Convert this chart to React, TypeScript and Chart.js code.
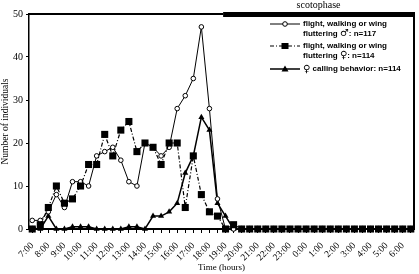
import React, { useEffect, useRef } from 'react';
import { Chart, registerables } from 'chart.js';

Chart.register(...registerables);

// Hour tick labels (one every second half-hour slot)
const hourLabels = [
  '7:00', '8:00', '9:00', '10:00', '11:00', '12:00', '13:00', '14:00',
  '15:00', '16:00', '17:00', '18:00', '19:00', '20:00', '21:00', '22:00',
  '23:00', '0:00', '1:00', '2:00', '3:00', '4:00', '5:00', '6:00',
];

// Half-hour slots, 7:00 .. 6:30
const slotCount = 48;

// flight, walking or wing fluttering, males (n=117)
const maleFlight = [
  2, 2, 4, 8, 5, 11, 11, 10, 17, 18, 19, 16, 11, 10, 20, 19,
  17, 19, 28, 31, 35, 47, 28, 7, 0, 0, 0, 0, 0, 0, 0, 0,
  0, 0, 0, 0, 0, 0, 0, 0, 0, 0, 0, 0, 0, 0, 0, 0,
];

// flight, walking or wing fluttering, females (n=114)
const femaleFlight = [
  0, 1, 5, 10, 6, 7, 10, 15, 15, 22, 17, 23, 25, 18, 20, 19,
  15, 20, 20, 5, 17, 8, 4, 3, 0, 1, 0, 0, 0, 0, 0, 0,
  0, 0, 0, 0, 0, 0, 0, 0, 0, 0, 0, 0, 0, 0, 0, 0,
];

// female calling behavior (n=114)
const femaleCalling = [
  0, 0, 3, 0, 0, 0.5, 0.5, 0.5, 0, 0, 0, 0, 0.5, 0.5, 0, 3,
  3, 4, 6, 13, 17, 26, 23, 6, 3, 0, 0, 0, 0, 0, 0, 0,
  0, 0, 0, 0, 0, 0, 0, 0, 0, 0, 0, 0, 0, 0, 0, 0,
];

const yMin = 0;
const yMax = 50;
const yStep = 10;

// scotophase begins (slot index, ~18:50)
const scotophaseStart = 23.7;

const legendLabels = [
  ['flight, walking or wing', 'fluttering \u2642: n=117'],
  ['flight, walking or wing', 'fluttering \u2640: n=114'],
  ['\u2640 calling behavior: n=114'],
];

const toPoints = (arr: number[]) => arr.map((y, i) => ({ x: i, y }));

function drawMarker(ctx: CanvasRenderingContext2D, kind: string, x: number, y: number) {
  ctx.save();
  ctx.fillStyle = '#000';
  ctx.strokeStyle = '#000';
  ctx.lineWidth = 1;
  ctx.setLineDash([]);
  if (kind === 'circle') {
    ctx.beginPath();
    ctx.arc(x, y, 2.3, 0, Math.PI * 2);
    ctx.fillStyle = '#fff';
    ctx.fill();
    ctx.stroke();
  } else if (kind === 'rect') {
    ctx.fillRect(x - 3.5, y - 3, 7, 6);
  } else {
    ctx.beginPath();
    ctx.moveTo(x, y - 3.5);
    ctx.lineTo(x + 3.5, y + 2.5);
    ctx.lineTo(x - 3.5, y + 2.5);
    ctx.closePath();
    ctx.fill();
  }
  ctx.restore();
}

const textFont = 'bold 8px "Liberation Sans"';
const symbolFont = '10px "DejaVu Sans"';

// draw a legend line, using a larger font for the sex symbols
function drawRich(ctx: CanvasRenderingContext2D, text: string, x: number, y: number) {
  let cx = x;
  const parts = text.split(/([\u2640\u2642])/);
  parts.forEach((p) => {
    if (!p) return;
    const isSym = p === '\u2640' || p === '\u2642';
    ctx.font = isSym ? symbolFont : textFont;
    ctx.fillText(p, cx, y);
    cx += ctx.measureText(p).width;
  });
}

const overlayPlugin = {
  id: 'overlay',
  afterDraw(chart: any) {
    const { ctx, chartArea: a, scales } = chart;
    const xs = scales.x.getPixelForValue(scotophaseStart);
    ctx.save();
    ctx.fillStyle = '#000';
    // top frame (photophase) and scotophase bar
    ctx.fillRect(a.left, a.top - 1, xs - a.left, 2);
    ctx.fillRect(xs, a.top - 2, a.right - xs + 1, 5);
    // right frame
    ctx.fillRect(a.right - 1, a.top, 2, a.bottom - a.top);

    ctx.font = '10px "Liberation Serif"';
    ctx.textAlign = 'center';
    ctx.textBaseline = 'middle';
    ctx.fillText('scotophase', (xs + a.right) / 2, a.top - 9);

    // legend
    const styles = [
      { dash: [] as number[], marker: 'circle', width: 1 },
      { dash: [4, 2, 1, 2], marker: 'rect', width: 1.2 },
      { dash: [] as number[], marker: 'triangle', width: 1.5 },
    ];
    const offsets = [10, 32, 55];
    const lx0 = a.right - 144;
    const lx1 = a.right - 114;
    ctx.textAlign = 'left';
    legendLabels.forEach((lines, i) => {
      const y = a.top + offsets[i];
      const s = styles[i];
      ctx.save();
      ctx.strokeStyle = '#000';
      ctx.lineWidth = s.width;
      ctx.setLineDash(s.dash);
      ctx.beginPath();
      ctx.moveTo(lx0, y);
      ctx.lineTo(lx1, y);
      ctx.stroke();
      ctx.restore();
      drawMarker(ctx, s.marker, (lx0 + lx1) / 2, y);
      lines.forEach((t, j) => {
        drawRich(ctx, t, lx1 + 3, y + j * 9.5);
      });
    });
    ctx.restore();
  },
};

export default function App() {
  const canvasRef = useRef<HTMLCanvasElement | null>(null);

  useEffect(() => {
    document.body.style.margin = '0';
    const canvas = canvasRef.current;
    if (!canvas) return;
    const slots = Array.from({ length: slotCount }, (_, i) => i);

    const chart = new Chart(canvas, {
      type: 'line',
      data: {
        datasets: [
          {
            label: 'female flight',
            data: toPoints(femaleFlight),
            borderColor: '#000',
            borderWidth: 1.2,
            borderDash: [4, 2, 1, 2],
            pointStyle: 'rect',
            pointRadius: 5,
            pointBackgroundColor: '#000',
            pointBorderColor: '#000',
            pointBorderWidth: 0,
            clip: false,
            order: 0,
          },
          {
            label: 'male flight',
            data: toPoints(maleFlight),
            borderColor: '#000',
            borderWidth: 1,
            pointStyle: 'circle',
            pointRadius: 2.3,
            pointBackgroundColor: '#fff',
            pointBorderColor: '#000',
            pointBorderWidth: 1,
            clip: false,
            order: 1,
          },
          {
            label: 'female calling',
            data: toPoints(femaleCalling),
            borderColor: '#000',
            borderWidth: 1.5,
            pointStyle: 'triangle',
            pointRadius: 3.5,
            pointBackgroundColor: '#000',
            pointBorderColor: '#000',
            pointBorderWidth: 0,
            clip: false,
            order: 2,
          },
        ],
      },
      options: {
        responsive: false,
        animation: false,
        devicePixelRatio: 1,
        layout: { padding: { top: 14, right: 3, left: 0, bottom: 0 } },
        plugins: {
          legend: { display: false },
          tooltip: { enabled: false },
        },
        scales: {
          x: {
            type: 'linear',
            min: -0.4,
            max: slotCount - 0.6,
            afterBuildTicks: (scale: any) => {
              scale.ticks = slots.map((v) => ({ value: v }));
            },
            afterFit: (scale: any) => {
              scale.height = 45;
              scale.paddingLeft = 0;
              scale.paddingRight = 0;
            },
            ticks: {
              autoSkip: false,
              minRotation: 45,
              maxRotation: 45,
              padding: 7,
              color: '#000',
              font: { family: '"Liberation Serif"', size: 9.5 },
              callback: (value: any) => {
                const v = Number(value);
                return v % 2 === 0 ? hourLabels[v / 2] : '';
              },
            },
            grid: {
              display: true,
              drawOnChartArea: false,
              drawTicks: true,
              tickLength: 4,
              color: '#000',
              lineWidth: 1,
            },
            border: { display: true, color: '#000', width: 2 },
            title: {
              display: true,
              text: 'Time (hours)',
              color: '#000',
              font: { family: '"Liberation Serif"', size: 9 },
              padding: { top: 0, bottom: 1 },
            },
          },
          y: {
            type: 'linear',
            min: yMin,
            max: yMax,
            afterFit: (scale: any) => {
              scale.width = 29;
              scale.paddingTop = 0;
              scale.paddingBottom = 0;
            },
            ticks: {
              stepSize: yStep,
              padding: 3,
              color: '#000',
              font: { family: '"Liberation Serif"', size: 10 },
            },
            grid: {
              display: true,
              drawOnChartArea: false,
              drawTicks: true,
              tickLength: 3,
              color: '#000',
            },
            border: { display: true, color: '#000', width: 1.5 },
            title: {
              display: true,
              text: 'Number of individuals',
              color: '#000',
              font: { family: '"Liberation Serif"', size: 9.5 },
              padding: { top: 0, bottom: 1 },
            },
          },
        },
      },
      plugins: [overlayPlugin],
    });

    return () => chart.destroy();
  }, []);

  return (
    <div style={{ width: 419, height: 274 }}>
      <canvas ref={canvasRef} width={419} height={274} style={{ display: 'block' }} />
    </div>
  );
}
